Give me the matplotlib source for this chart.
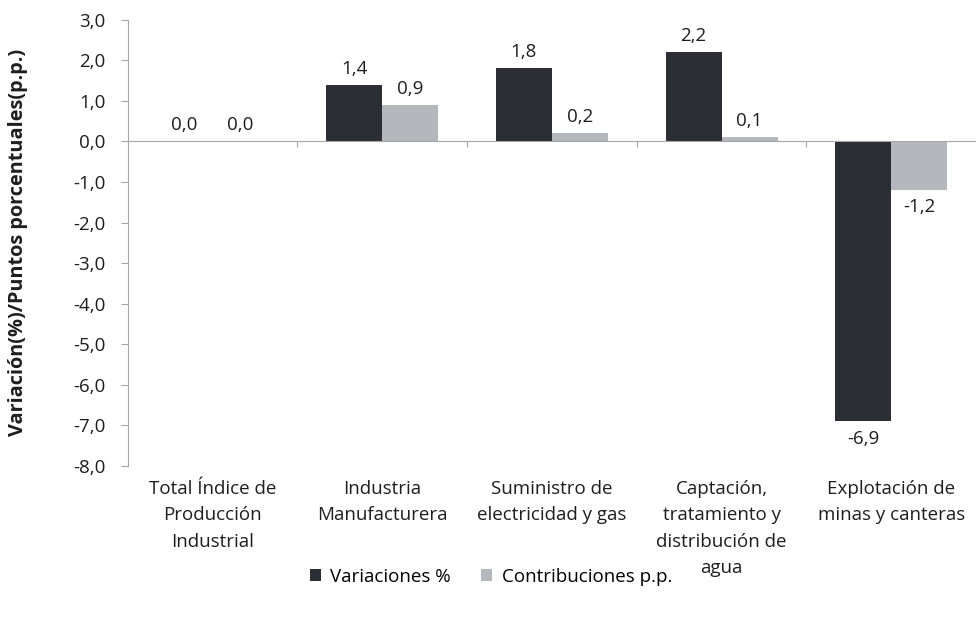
import numpy as np
import matplotlib
matplotlib.use("Agg")
import matplotlib.pyplot as plt

plt.rcParams['font.family'] = ['Open Sans', 'DejaVu Sans']

categorias = ["Total Índice de\nProducción\nIndustrial",
              "Industria\nManufacturera",
              "Suministro de\nelectricidad y gas",
              "Captación,\ntratamiento y\ndistribución de\nagua",
              "Explotación de\nminas y canteras"]
variaciones = [0.0, 1.4, 1.8, 2.2, -6.9]
contribuciones = [0.0, 0.9, 0.2, 0.1, -1.2]
yticks = np.arange(-8, 4, 1)

c_dark = "#2c2e35"
c_light = "#b5b7bd"
c_axis = "#a6a6a6"
c_text = "#1e1e1e"
fs = 13.5

fig = plt.figure(figsize=(9.76, 6.17), dpi=100)
ax = fig.add_axes([0.131, 0.245, 0.869, 0.723])

x = np.arange(len(categorias))
w = 0.33
b1 = ax.bar(x - w / 2, variaciones, w, color=c_dark, label="Variaciones %")
b2 = ax.bar(x + w / 2, contribuciones, w, color=c_light, label="Contribuciones p.p.")

for bars, vals in [(b1, variaciones), (b2, contribuciones)]:
    for r, v in zip(bars, vals):
        txt = f"{v:.1f}".replace(".", ",")
        cx = r.get_x() + r.get_width() / 2
        if v >= 0:
            ax.annotate(txt, (cx, v), xytext=(0, 5), textcoords="offset points",
                        ha="center", va="bottom", fontsize=fs, color=c_text)
        else:
            ax.annotate(txt, (cx, v), xytext=(0, -6), textcoords="offset points",
                        ha="center", va="top", fontsize=fs, color=c_text)

ax.set_xlim(-0.5, len(categorias) - 0.5)
ax.set_ylim(-8, 3)
ax.set_yticks(yticks)
ax.set_yticklabels([f"{t:.1f}".replace(".", ",") for t in yticks], fontsize=fs, color=c_text)
ax.tick_params(axis="y", length=5, color=c_axis, pad=11)

ax.spines["top"].set_visible(False)
ax.spines["right"].set_visible(False)
ax.spines["left"].set_color(c_axis)
ax.spines["bottom"].set_position(("data", 0))
ax.spines["bottom"].set_color(c_axis)
ax.set_xticks(np.arange(0.5, len(categorias) - 0.5, 1))
ax.set_xticklabels([])
ax.tick_params(axis="x", length=4, color=c_axis, direction="out")

for i, cat in enumerate(categorias):
    ax.text(i, -8.35, cat, ha="center", va="top", fontsize=fs, color=c_text,
            linespacing=1.6)

ax.set_ylabel("Variación(%)/Puntos porcentuales(p.p.)", fontsize=14.3, fontweight="bold",
              color=c_text)
ax.yaxis.set_label_coords(-0.118, 0.5)

fig.legend(handles=[b1, b2], loc="center", bbox_to_anchor=(0.503, 0.065), ncol=2,
           frameon=False, fontsize=fs, handlelength=0.6, handleheight=0.6,
           handletextpad=0.5, columnspacing=1.6)

fig.savefig("out.png", dpi=100)
